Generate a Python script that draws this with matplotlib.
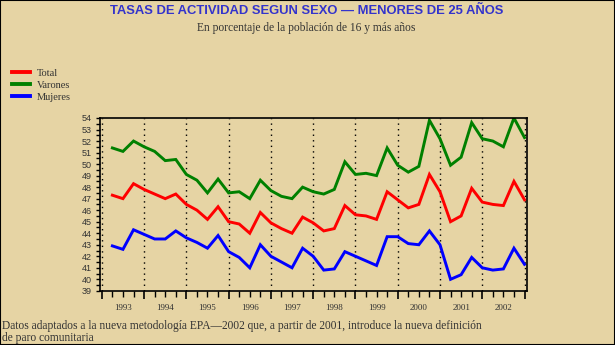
import numpy as np
import matplotlib.pyplot as plt
from matplotlib.patches import Rectangle
from matplotlib.ticker import MultipleLocator
from matplotlib.transforms import blended_transform_factory

# tasas trimestrales 1993 I - 2002 IV
years = list(range(1993, 2003))
total = [47.3, 47.0, 48.3, 47.8, 47.4, 47.0, 47.4, 46.5, 46.0, 45.2,
         46.3, 45.0, 44.8, 44.0, 45.8, 44.9, 44.4, 44.0, 45.4, 44.9,
         44.2, 44.4, 46.4, 45.6, 45.5, 45.2, 47.6, 46.9, 46.2, 46.5,
         49.1, 47.6, 45.0, 45.5, 47.9, 46.7, 46.5, 46.4, 48.5, 46.9]
varones = [51.4, 51.1, 52.0, 51.5, 51.1, 50.3, 50.4, 49.1, 48.6, 47.5,
           48.7, 47.5, 47.6, 47.0, 48.6, 47.7, 47.2, 47.0, 48.0, 47.6,
           47.4, 47.8, 50.2, 49.1, 49.2, 49.0, 51.4, 49.9, 49.3, 49.8,
           53.8, 52.2, 49.9, 50.6, 53.6, 52.2, 52.0, 51.5, 54.0, 52.3]
mujeres = [42.9, 42.6, 44.3, 43.9, 43.5, 43.5, 44.2, 43.6, 43.2, 42.7,
           43.8, 42.4, 41.9, 41.0, 43.0, 42.0, 41.5, 41.0, 42.7, 42.0,
           40.8, 40.9, 42.4, 42.0, 41.6, 41.2, 43.7, 43.7, 43.1, 43.0,
           44.2, 43.0, 40.0, 40.4, 41.9, 41.0, 40.8, 40.9, 42.7, 41.3]

x = np.array([y + q / 4 for y in years for q in range(1, 5)])

bg = '#e6d4a4'
serif = 'Liberation Serif'
plt.rcParams['font.family'] = serif

fig = plt.figure(figsize=(6.15, 3.45), dpi=100, facecolor=bg)
ax = fig.add_axes([0.1626, 0.157, 0.6944, 0.501], facecolor=bg)

ax.plot(x, total, color='#ff0000', lw=2.1, label='Total', solid_joinstyle='miter')
ax.plot(x, varones, color='#008000', lw=2.1, label='Varones', solid_joinstyle='miter')
ax.plot(x, mujeres, color='#0000ff', lw=2.1, label='Mujeres', solid_joinstyle='miter')

for y in years + [2003]:
    ax.axvline(y, color='black', lw=1, ls=(0, (1, 3)), zorder=0)

ax.set_xlim(1992.957, 2003.06)
ax.set_ylim(39, 54)
ax.set_xticks(years + [2003])
ax.set_xticklabels([])
ax.xaxis.set_minor_locator(MultipleLocator(0.25))
ax.tick_params(axis='x', which='major', length=6, width=1.2, direction='out')
ax.tick_params(axis='x', which='minor', length=4, width=1, direction='out')
ax.set_yticks(range(39, 55))
ax.yaxis.set_minor_locator(MultipleLocator(0.5))
ax.tick_params(axis='y', which='both', length=3, width=1, direction='out',
               labelsize=6.5, labelcolor='#333333', pad=3)
for lab in ax.get_yticklabels():
    lab.set_family('Liberation Sans')
for s in ax.spines.values():
    s.set_linewidth(1.2)

trans = blended_transform_factory(ax.transData, ax.transAxes)
for y in years:
    ax.text(y + 0.5, -0.1, str(y), transform=trans, ha='center', va='center',
            fontsize=6.5, color='#333333')

leg = fig.legend(loc='upper left', bbox_to_anchor=(0.005, 0.828), frameon=False,
                 fontsize=7.5, handlelength=1.7, handletextpad=0.6, labelspacing=0.25)
for t in leg.get_texts():
    t.set_color('#333333')
for h in leg.get_lines():
    h.set_linewidth(2.8)

fig.text(0.498, 0.968, 'TASAS DE ACTIVIDAD SEGUN SEXO \u2014 MENORES DE 25 AÑOS',
         ha='center', va='center', fontsize=9.4, fontweight='bold',
         color='#3333cc', family='Liberation Sans')
fig.text(0.498, 0.918, 'En porcentaje de la población de 16 y más años',
         ha='center', va='center', fontsize=8.3, color='#333333')
fig.text(0.004, 0.055, 'Datos adaptados a la nueva metodología EPA\u20142002 que, a partir de 2001, '
         'introduce la nueva definición', ha='left', va='center', fontsize=8.3, color='#333333')
fig.text(0.004, 0.02, 'de paro comunitaria', ha='left', va='center', fontsize=8.3, color='#333333')

fig.patches.append(Rectangle((0, 0), 1, 1, transform=fig.transFigure, fill=False,
                             edgecolor='black', lw=1.5, figure=fig))

fig.savefig('out.png', dpi=100, facecolor=bg)
